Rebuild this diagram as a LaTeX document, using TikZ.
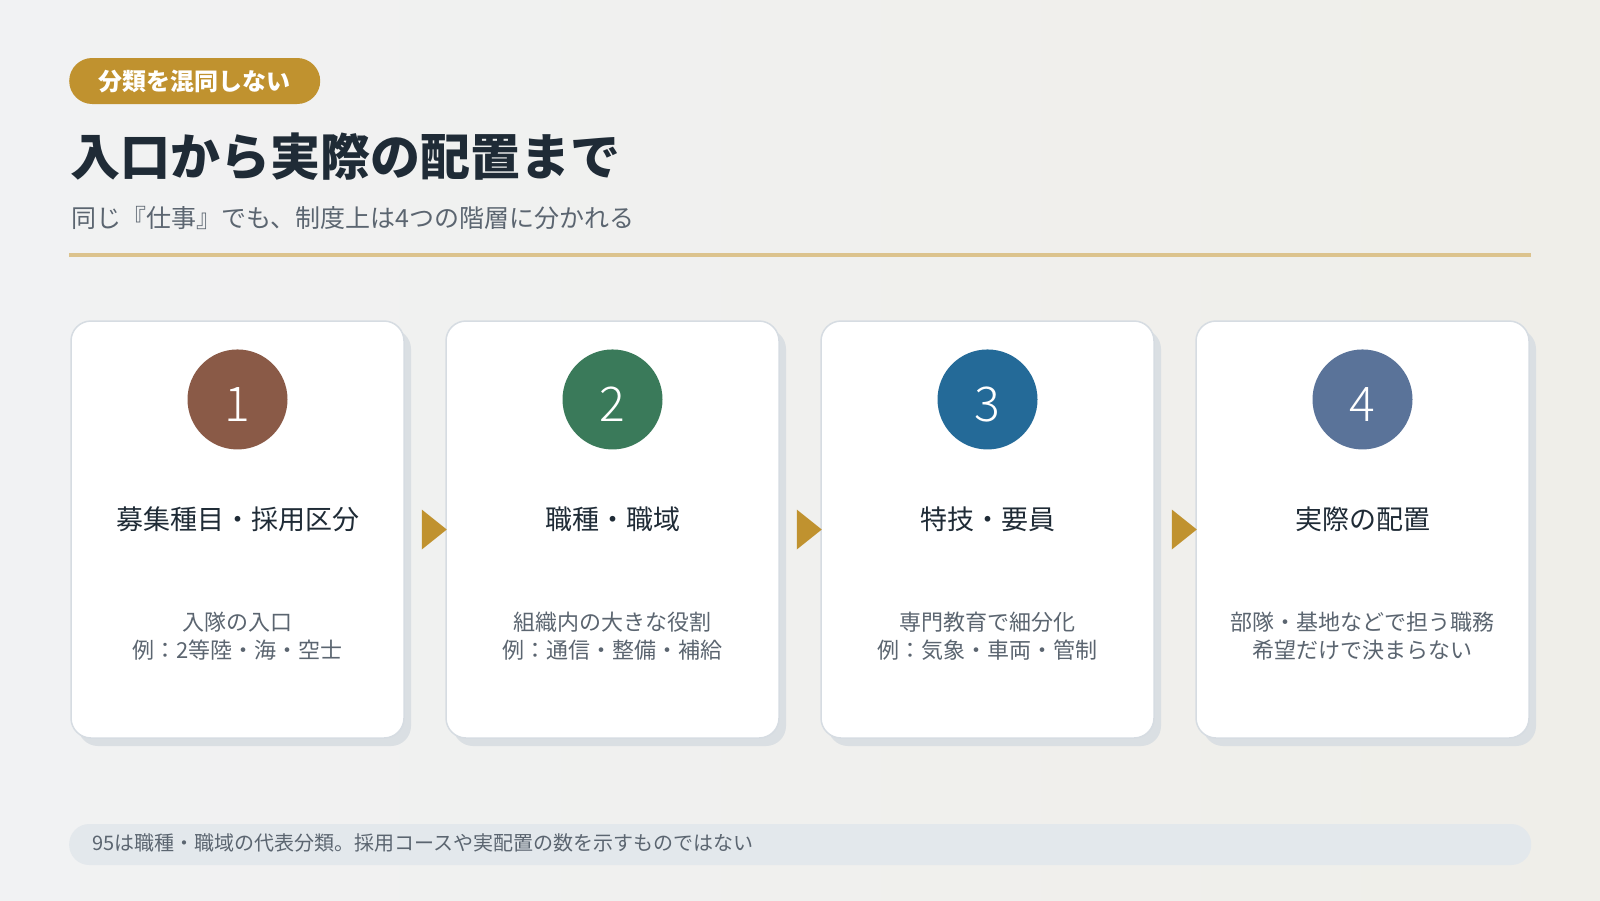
\documentclass[tikz,border=0pt]{standalone}
\usepackage{fontspec}
\setmainfont{Noto Sans CJK JP}
\newfontfamily\numfont{Noto Sans CJK JP Light}
\usetikzlibrary{calc,positioning,shadows}
\definecolor{gold}{HTML}{C0922F}
\definecolor{paleGold}{HTML}{DCC38D}
\definecolor{ink}{HTML}{1F2B36}
\definecolor{slate}{HTML}{5B6570}
\definecolor{cardline}{HTML}{D6DCE2}
\definecolor{cardshadow}{HTML}{DADFE3}
\definecolor{footfill}{HTML}{E3E8EC}
\definecolor{bgLeft}{HTML}{F1F2F3}
\definecolor{bgRight}{HTML}{EFEEE9}
\definecolor{numBrown}{HTML}{8A5A47}
\definecolor{numGreen}{HTML}{3A7A5A}
\definecolor{numBlue}{HTML}{246A98}
\definecolor{numSlate}{HTML}{5A7399}

\begin{document}
\begin{tikzpicture}[x=1pt,y=-1pt,
    card/.style={draw=cardline,line width=1.5pt,fill=white,rounded corners=20pt,
        minimum width=333pt,minimum height=417pt,
        drop shadow={shadow xshift=7pt,shadow yshift=-8pt,fill=cardshadow,opacity=1}},
    num/.style={circle,minimum size=100pt,inner sep=0pt,text=white,
        text height=45pt,text depth=0pt,font=\fontsize{48}{48}\numfont},
    head/.style={text=ink,font=\fontsize{27}{32}\selectfont},
    note/.style={text=slate,align=center,font=\fontsize{22}{28}\selectfont},
    flow/.style={fill=gold}]
            \shade[left color=bgLeft,right color=bgRight] (0,0) rectangle (1600,900);
            \useasboundingbox (0,0) rectangle (1600,900);

            \node[fill=gold,rounded corners=23pt,minimum width=251pt,minimum height=46pt,
                text=white,font=\fontsize{24}{24}\selectfont\bfseries,anchor=west]
                (badge) at (69,81) {分類を混同しない};
            \node[text=ink,font=\fontsize{50}{50}\selectfont\bfseries,anchor=west,inner sep=0pt]
                (title) at (70,157) {入口から実際の配置まで};
            \node[text=slate,font=\fontsize{25}{25}\selectfont,anchor=west,inner sep=0pt]
                (subtitle) at (71,218) {同じ『仕事』でも、制度上は4つの階層に分かれる};
            \coordinate (L) at (69,255);
            \coordinate (R) at (1531,255);
            \draw[paleGold,line width=4.5pt] (L)--(R);

            \node[card] (card1) at (237.5,529.5) {};
            \node[card] (card2) at (612.5,529.5) {};
            \node[card] (card3) at (987.5,529.5) {};
            \node[card] (card4) at (1362.5,529.5) {};

            \node[num,fill=numBrown,below=29pt of card1.north] (num1) {1};
            \node[num,fill=numGreen,below=29pt of card2.north] (num2) {2};
            \node[num,fill=numBlue,below=29pt of card3.north] (num3) {3};
            \node[num,fill=numSlate,below=29pt of card4.north] (num4) {4};

            \node[head] (head1) at ($(card1.north)+(0,199)$) {募集種目・採用区分};
            \node[head] (head2) at ($(card2.north)+(0,199)$) {職種・職域};
            \node[head] (head3) at ($(card3.north)+(0,199)$) {特技・要員};
            \node[head] (head4) at ($(card4.north)+(0,199)$) {実際の配置};

            \node[note] (note1) at ($(card1.north)+(0,316)$) {入隊の入口\\例：2等陸・海・空士};
            \node[note] (note2) at ($(card2.north)+(0,316)$) {組織内の大きな役割\\例：通信・整備・補給};
            \node[note] (note3) at ($(card3.north)+(0,316)$) {専門教育で細分化\\例：気象・車両・管制};
            \node[note] (note4) at ($(card4.north)+(0,316)$) {部隊・基地などで担う職務\\希望だけで決まらない};

            \fill[flow] ($(card1.east)+(17,-20)$) -- ($(card1.east)+(42,0)$) -- ($(card1.east)+(17,20)$) -- cycle;
            \fill[flow] ($(card2.east)+(17,-20)$) -- ($(card2.east)+(42,0)$) -- ($(card2.east)+(17,20)$) -- cycle;
            \fill[flow] ($(card3.east)+(17,-20)$) -- ($(card3.east)+(42,0)$) -- ($(card3.east)+(17,20)$) -- cycle;

            \node[fill=footfill,rounded corners=20pt,minimum width=1462pt,minimum height=41pt,
                anchor=west] (footer) at (69,844.5) {};
            \node[text=slate,font=\fontsize{20}{20}\selectfont,anchor=west,inner sep=0pt]
                (footnote) at (92,843) {95は職種・職域の代表分類。採用コースや実配置の数を示すものではない};
        \end{tikzpicture}
\end{document}
